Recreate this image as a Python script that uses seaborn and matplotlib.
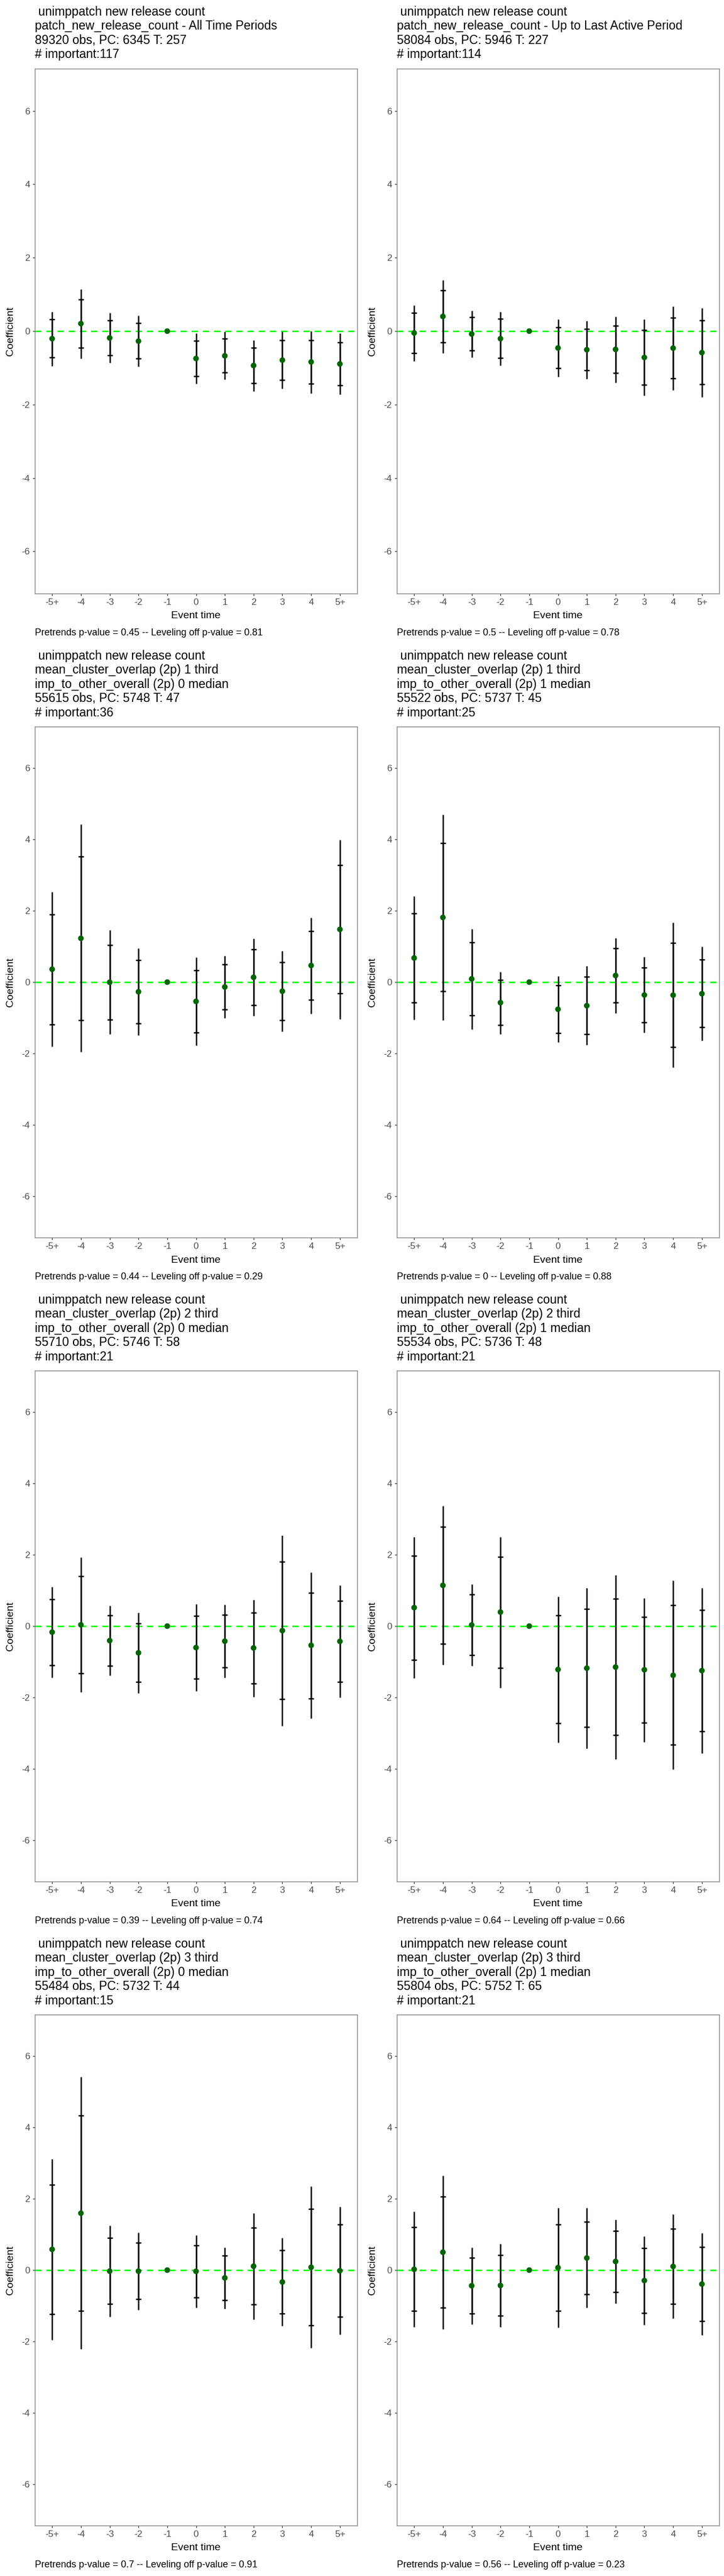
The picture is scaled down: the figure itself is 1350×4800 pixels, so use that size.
import numpy as np
import pandas as pd
import matplotlib
matplotlib.use("Agg")
import matplotlib.pyplot as plt
import seaborn as sns

nan = np.nan

event_labels = ["-5+", "-4", "-3", "-2", "-1", "0", "1", "2", "3", "4", "5+"]

# ---------------- panel 1 ----------------
p1_title = [" unimppatch new release count",
            "patch_new_release_count - All Time Periods",
            "89320 obs, PC: 6345 T: 257",
            "# important:117"]
p1_caption = "Pretrends p-value = 0.45 -- Leveling off p-value = 0.81"
p1_coef = [-0.205, 0.205, -0.185, -0.273, 0.0, -0.746, -0.673, -0.937, -0.79, -0.839, -0.893]
p1_in_hi = [0.317, 0.868, 0.293, 0.22, nan, -0.268, -0.21, -0.449, -0.244, -0.249, -0.307]
p1_in_lo = [-0.72, -0.459, -0.663, -0.751, nan, -1.234, -1.132, -1.42, -1.332, -1.429, -1.478]
p1_out_hi = [0.527, 1.146, 0.493, 0.42, nan, -0.059, -0.02, -0.244, -0.01, 0.0, -0.059]
p1_out_lo = [-0.95, -0.741, -0.868, -0.966, nan, -1.439, -1.322, -1.634, -1.561, -1.693, -1.727]

# ---------------- panel 2 ----------------
p2_title = [" unimppatch new release count",
            "patch_new_release_count - Up to Last Active Period",
            "58084 obs, PC: 5946 T: 227",
            "# important:114"]
p2_caption = "Pretrends p-value = 0.5 -- Leveling off p-value = 0.78"
p2_coef = [-0.049, 0.4, -0.078, -0.205, 0.0, -0.459, -0.507, -0.498, -0.717, -0.463, -0.585]
p2_in_hi = [0.502, 1.117, 0.38, 0.332, nan, 0.107, 0.063, 0.146, 0.034, 0.361, 0.288]
p2_in_lo = [-0.595, -0.312, -0.532, -0.732, nan, -1.015, -1.073, -1.141, -1.463, -1.288, -1.454]
p2_out_hi = [0.707, 1.39, 0.551, 0.532, nan, 0.327, 0.278, 0.395, 0.322, 0.678, 0.629]
p2_out_lo = [-0.815, -0.6, -0.712, -0.941, nan, -1.239, -1.298, -1.4, -1.756, -1.61, -1.805]

# ---------------- panel 3 ----------------
p3_title = [" unimppatch new release count",
            "mean_cluster_overlap (2p) 1 third",
            "imp_to_other_overall (2p) 0 median",
            "55615 obs, PC: 5748 T: 47",
            "# important:36"]
p3_caption = "Pretrends p-value = 0.44 -- Leveling off p-value = 0.29"
p3_coef = [0.36, 1.225, -0.005, -0.27, 0.0, -0.54, -0.135, 0.135, -0.255, 0.465, 1.475]
p3_in_hi = [1.9, 3.51, 1.04, 0.61, nan, 0.335, 0.49, 0.91, 0.55, 1.425, 3.27]
p3_in_lo = [-1.18, -1.06, -1.05, -1.15, nan, -1.415, -0.76, -0.64, -1.06, -0.5, -0.32]
p3_out_hi = [2.52, 4.41, 1.45, 0.95, nan, 0.685, 0.735, 1.21, 0.865, 1.81, 3.98]
p3_out_lo = [-1.8, -1.96, -1.46, -1.49, nan, -1.765, -1.0, -0.95, -1.375, -0.88, -1.03]

# ---------------- panel 4 ----------------
p4_title = [" unimppatch new release count",
            "mean_cluster_overlap (2p) 1 third",
            "imp_to_other_overall (2p) 1 median",
            "55522 obs, PC: 5737 T: 45",
            "# important:25"]
p4_caption = "Pretrends p-value = 0 -- Leveling off p-value = 0.88"
p4_coef = [0.675, 1.81, 0.09, -0.575, 0.0, -0.76, -0.66, 0.185, -0.36, -0.365, -0.325]
p4_in_hi = [1.925, 3.885, 1.11, 0.06, nan, -0.085, 0.145, 0.945, 0.405, 1.095, 0.625]
p4_in_lo = [-0.565, -0.26, -0.925, -1.205, nan, -1.425, -1.455, -0.575, -1.12, -1.825, -1.265]
p4_out_hi = [2.4, 4.685, 1.49, 0.29, nan, 0.17, 0.45, 1.235, 0.7, 1.66, 0.995]
p4_out_lo = [-1.05, -1.06, -1.315, -1.45, nan, -1.68, -1.76, -0.87, -1.41, -2.39, -1.635]

# ---------------- panel 5 ----------------
p5_title = [" unimppatch new release count",
            "mean_cluster_overlap (2p) 2 third",
            "imp_to_other_overall (2p) 0 median",
            "55710 obs, PC: 5746 T: 58",
            "# important:21"]
p5_caption = "Pretrends p-value = 0.39 -- Leveling off p-value = 0.74"
p5_coef = [-0.169, 0.037, -0.406, -0.748, 0.0, -0.601, -0.422, -0.611, -0.126, -0.538, -0.427]
p5_in_hi = [0.748, 1.402, 0.306, 0.069, nan, 0.285, 0.316, 0.369, 1.797, 0.938, 0.706]
p5_in_lo = [-1.091, -1.323, -1.112, -1.565, nan, -1.476, -1.159, -1.602, -2.05, -2.024, -1.56]
p5_out_hi = [1.091, 1.924, 0.574, 0.379, nan, 0.611, 0.596, 0.743, 2.535, 1.502, 1.138]
p5_out_lo = [-1.444, -1.85, -1.386, -1.881, nan, -1.813, -1.439, -1.976, -2.788, -2.588, -1.997]

# ---------------- panel 6 ----------------
p6_title = [" unimppatch new release count",
            "mean_cluster_overlap (2p) 2 third",
            "imp_to_other_overall (2p) 1 median",
            "55534 obs, PC: 5736 T: 48",
            "# important:21"]
p6_caption = "Pretrends p-value = 0.64 -- Leveling off p-value = 0.66"
p6_coef = [0.517, 1.14, 0.031, 0.393, 0.0, -1.215, -1.178, -1.146, -1.221, -1.377, -1.246]
p6_in_hi = [1.969, 2.785, 0.879, 1.938, nan, 0.293, 0.48, 0.76, 0.262, 0.579, 0.449]
p6_in_lo = [-0.941, -0.492, -0.81, -1.165, nan, -2.723, -2.829, -3.047, -2.71, -3.321, -2.947]
p6_out_hi = [2.486, 3.371, 1.178, 2.492, nan, 0.829, 1.072, 1.433, 0.785, 1.277, 1.059]
p6_out_lo = [-1.464, -1.078, -1.109, -1.72, nan, -3.265, -3.427, -3.726, -3.24, -4.012, -3.558]

# ---------------- panel 7 ----------------
p7_title = [" unimppatch new release count",
            "mean_cluster_overlap (2p) 3 third",
            "imp_to_other_overall (2p) 0 median",
            "55484 obs, PC: 5732 T: 44",
            "# important:15"]
p7_caption = "Pretrends p-value = 0.7 -- Leveling off p-value = 0.91"
p7_coef = [0.58, 1.592, -0.029, -0.029, 0.0, -0.034, -0.218, 0.109, -0.333, 0.08, -0.017]
p7_in_hi = [2.39, 4.328, 0.897, 0.759, nan, 0.69, 0.402, 1.184, 0.552, 1.707, 1.276]
p7_in_lo = [-1.236, -1.138, -0.943, -0.81, nan, -0.77, -0.845, -0.966, -1.213, -1.552, -1.305]
p7_out_hi = [3.103, 5.408, 1.247, 1.057, nan, 0.971, 0.638, 1.598, 0.897, 2.339, 1.77]
p7_out_lo = [-1.948, -2.213, -1.305, -1.109, nan, -1.052, -1.086, -1.385, -1.563, -2.184, -1.805]

# ---------------- panel 8 ----------------
p8_title = [" unimppatch new release count",
            "mean_cluster_overlap (2p) 3 third",
            "imp_to_other_overall (2p) 1 median",
            "55804 obs, PC: 5752 T: 65",
            "# important:21"]
p8_caption = "Pretrends p-value = 0.56 -- Leveling off p-value = 0.23"
p8_coef = [0.023, 0.5, -0.437, -0.431, 0.0, 0.069, 0.339, 0.241, -0.293, 0.103, -0.391]
p8_in_hi = [1.201, 2.063, 0.345, 0.414, nan, 1.282, 1.356, 1.092, 0.609, 1.161, 0.644]
p8_in_lo = [-1.138, -1.057, -1.213, -1.276, nan, -1.138, -0.672, -0.615, -1.195, -0.948, -1.431]
p8_out_hi = [1.644, 2.644, 0.638, 0.73, nan, 1.736, 1.736, 1.414, 0.948, 1.563, 1.034]
p8_out_lo = [-1.592, -1.649, -1.511, -1.592, nan, -1.603, -1.057, -0.937, -1.534, -1.351, -1.822]

panels = [
    (p1_title, p1_caption, p1_coef, p1_in_lo, p1_in_hi, p1_out_lo, p1_out_hi),
    (p2_title, p2_caption, p2_coef, p2_in_lo, p2_in_hi, p2_out_lo, p2_out_hi),
    (p3_title, p3_caption, p3_coef, p3_in_lo, p3_in_hi, p3_out_lo, p3_out_hi),
    (p4_title, p4_caption, p4_coef, p4_in_lo, p4_in_hi, p4_out_lo, p4_out_hi),
    (p5_title, p5_caption, p5_coef, p5_in_lo, p5_in_hi, p5_out_lo, p5_out_hi),
    (p6_title, p6_caption, p6_coef, p6_in_lo, p6_in_hi, p6_out_lo, p6_out_hi),
    (p7_title, p7_caption, p7_coef, p7_in_lo, p7_in_hi, p7_out_lo, p7_out_hi),
    (p8_title, p8_caption, p8_coef, p8_in_lo, p8_in_hi, p8_out_lo, p8_out_hi),
]

sns.set_style("white")
plt.rcParams["font.family"] = ["Liberation Sans", "DejaVu Sans"]
plt.rcParams["axes.unicode_minus"] = False

W, H = 1350, 4800
fig = plt.figure(figsize=(W / 100, H / 100), dpi=100)


def fx(x):
    return x / W


def fy(y):
    return 1 - y / H


PL, PR, PB = 65, 666, 1106
for i, (title, caption, coef, in_lo, in_hi, out_lo, out_hi) in enumerate(panels):
    row, col = divmod(i, 2)
    ox, oy = col * 675, row * 1200
    top = 128 if len(title) == 4 else 154
    ax = fig.add_axes([fx(ox + PL), fy(oy + PB), (PR - PL) / W, (PB - top) / H])

    df = pd.DataFrame({
        "event": event_labels,
        "x": np.arange(len(event_labels)),
        "coef": coef, "in_lo": in_lo, "in_hi": in_hi,
        "out_lo": out_lo, "out_hi": out_hi,
    })

    ax.axhline(0, color="#00FF00", lw=1.9, ls=(0, (4.5, 3.4)), zorder=1)
    ax.vlines(df["x"], df["out_lo"], df["out_hi"], color="black", lw=1.8, zorder=2)
    ax.errorbar(df["x"], df["coef"],
                yerr=[df["coef"] - df["in_lo"], df["in_hi"] - df["coef"]],
                fmt="none", ecolor="black", elinewidth=1.8, capsize=3.6,
                capthick=1.8, zorder=2)
    sns.scatterplot(data=df, x="x", y="coef", color="#006400", s=58,
                    edgecolor="none", linewidth=0, zorder=3, ax=ax, legend=False)

    ax.set_xlim(-0.6, 10.6)
    ax.set_ylim(-7.15, 7.15)
    ax.set_xticks(df["x"])
    ax.set_xticklabels(df["event"])
    ax.set_yticks([-6, -4, -2, 0, 2, 4, 6])
    ax.set_yticklabels(["-6", "-4", "-2", "0", "2", "4", "6"])
    ax.set_xlabel("")
    ax.set_ylabel("")
    ax.tick_params(axis="both", which="major", bottom=True, left=True,
                   length=3.1, width=1.0, color="#333333",
                   labelcolor="#4D4D4D", labelsize=12.5, pad=3.5)
    for s in ax.spines.values():
        s.set_visible(True)
        s.set_color("#7F7F7F")
        s.set_linewidth(1.0)

    # title lines
    for k, line in enumerate(title):
        fig.text(fx(ox + PL), fy(oy + 22 + 26.6 * k), line, fontsize=16.5,
                 ha="left", va="center", color="black")
    # axis titles
    fig.text(fx(ox + (PL + PR) / 2), fy(oy + 1148), "Event time", fontsize=14,
             ha="center", va="center", color="black")
    fig.text(fx(ox + 19.5), fy(oy + (top + PB) / 2), "Coefficient", fontsize=14,
             ha="center", va="center", rotation=90, color="black")
    # caption
    fig.text(fx(ox + PL), fy(oy + 1179), caption, fontsize=12.8,
             ha="left", va="center", color="black")

fig.savefig("out.png", dpi=100, facecolor="white")
